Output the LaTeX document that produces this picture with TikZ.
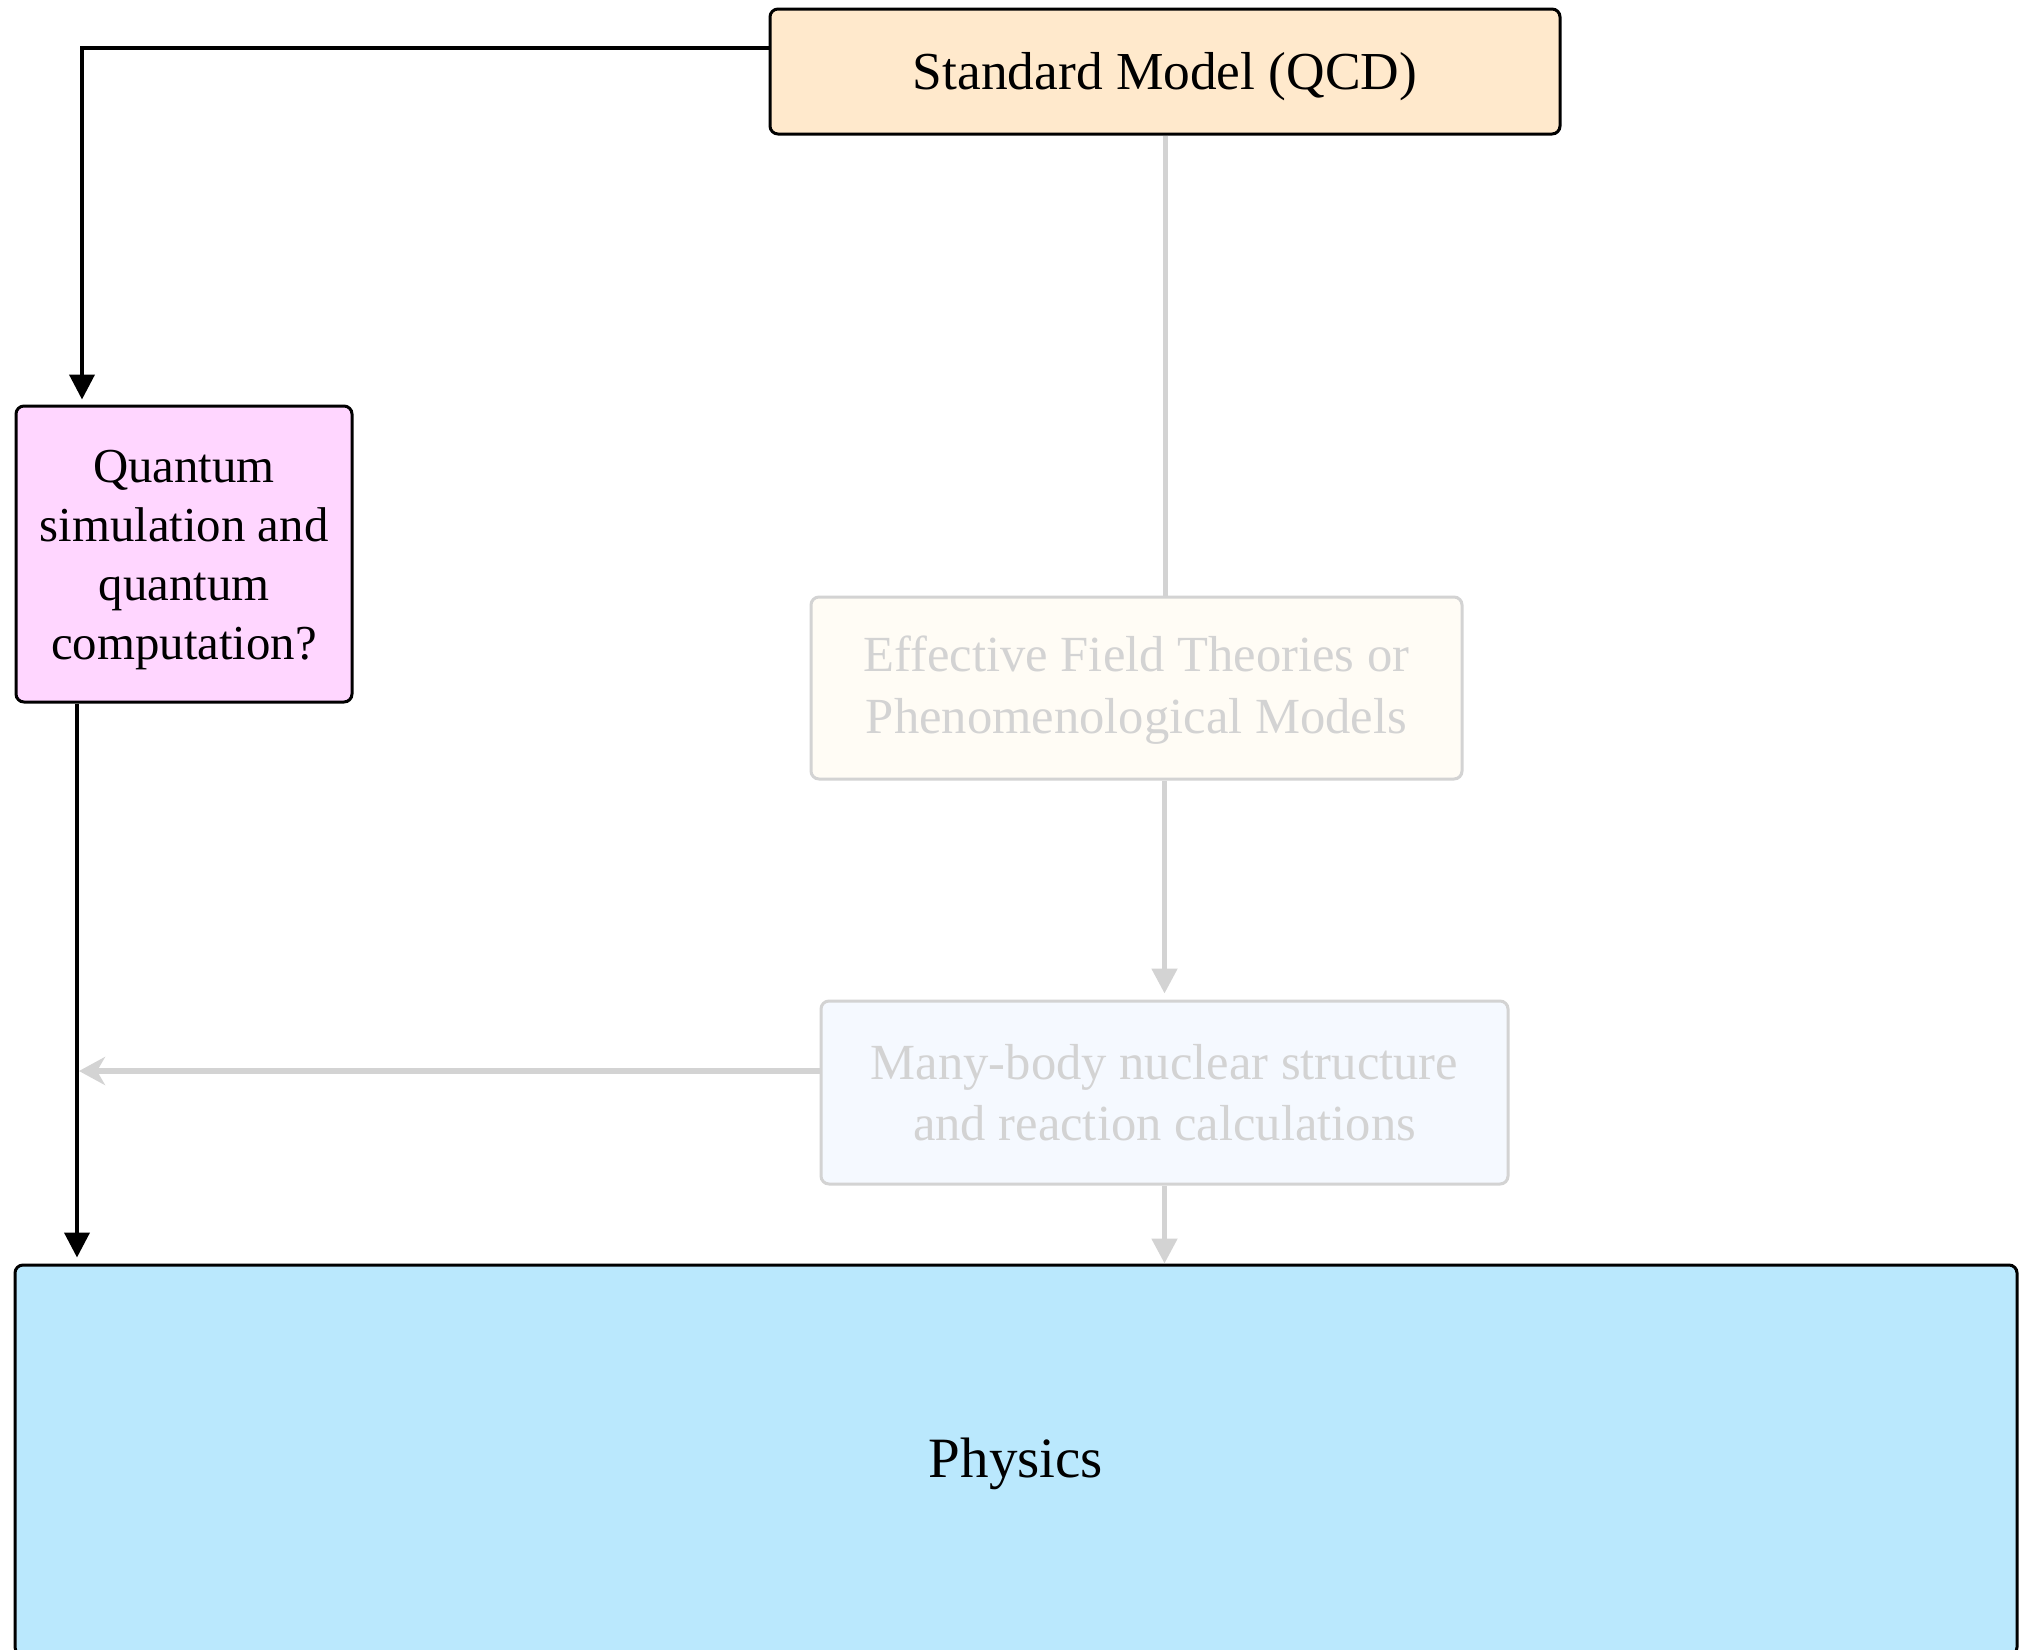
\documentclass[tikz,border=0pt]{standalone}
\usepackage{fontspec}
\setmainfont{Liberation Serif}
\usetikzlibrary{arrows.meta}
\definecolor{smfill}{HTML}{FFE9CC}
\definecolor{qcfill}{HTML}{FFD6FF}
\definecolor{phfill}{HTML}{BAE8FD}
\definecolor{efffill}{HTML}{FFFCF5}
\definecolor{mbfill}{HTML}{F5F9FF}
\definecolor{faded}{HTML}{D3D3D3}
\newcommand{\lowr}[2]{\raisebox{-#1}[\height][\depth]{#2}}
\tikzset{
  box/.style={draw=black, line width=1.5pt, rounded corners=4pt, align=center, inner sep=0pt},
  fadebox/.style={draw=faded, line width=1.5pt, rounded corners=4pt, align=center, inner sep=0pt, text=faded},
  blk/.style={draw=black, line width=2pt, -{Triangle[length=12.5pt,width=12.5pt]}},
  gry/.style={draw=faded, line width=2.5pt, -{Triangle[length=12.5pt,width=12.5pt]}},
  gryleft/.style={draw=faded, line width=3pt, -{Stealth[length=13pt,width=14pt,inset=4pt]}},
  gryline/.style={draw=faded, line width=2.5pt},
}
\begin{document}
\begin{tikzpicture}[x=0.5pt,y=-0.5pt]
\useasboundingbox (0,0) rectangle (2021,1649);
\clip (0,0) rectangle (2021,1649);
% nodes
\node[box, fill=smfill, minimum width=395pt, minimum height=62.5pt,
      font=\fontsize{26.7}{32}\selectfont] (sm) at (1165,71.5)
      {\lowr{2.5pt}{Standard Model (QCD)}};
\node[box, fill=qcfill, minimum width=168pt, minimum height=148pt,
      font=\fontsize{24.4}{29.6}\selectfont] (qc) at (184,554)
      {\lowr{2.5pt}{\begin{tabular}{@{}c@{}}Quantum\\simulation and\\quantum\\computation?\end{tabular}}};
\node[fadebox, fill=efffill, minimum width=325.5pt, minimum height=91pt,
      font=\fontsize{25.3}{30.8}\selectfont] (eft) at (1136.5,688)
      {\lowr{1pt}{\begin{tabular}{@{}c@{}}Effective Field Theories or\\Phenomenological Models\end{tabular}}};
\node[fadebox, fill=mbfill, minimum width=343.5pt, minimum height=91.5pt,
      font=\fontsize{25.3}{30.3}\selectfont] (mb) at (1164.5,1092.5)
      {Many-body nuclear structure\\and reaction calculations};
\node[box, fill=phfill, minimum width=1001pt, minimum height=195pt,
      font=\fontsize{28.5}{34}\selectfont] (ph) at (1016,1460)
      {\lowr{2pt}{Physics}};
% coordinates
\coordinate (c1) at (82,48);
\coordinate (c2) at (77,800);
\coordinate (c3) at (79,1071);
% connectors
\draw[blk, shorten >=2.5pt] (sm.west |- c1) -- (c1) -- (c1 |- qc.north);
\draw[blk, shorten >=3pt] (qc.south -| c2) -- (ph.north -| c2);
\draw[gryline] (sm.south) -- (eft.north -| sm.south);
\draw[gry, shorten >=3pt] (eft.south -| mb.north) -- (mb.north);
\draw[gry] (mb.south) -- (ph.north -| mb.south);
\draw[gryleft] (mb.west |- c3) -- (c3);
\end{tikzpicture}
\end{document}
